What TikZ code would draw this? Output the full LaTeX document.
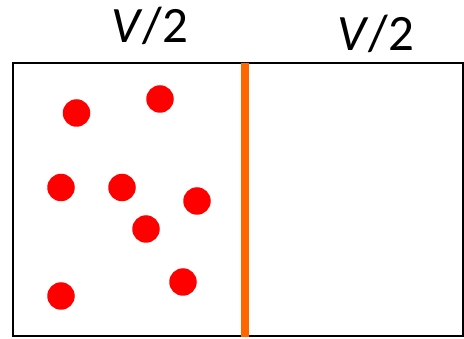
\documentclass[tikz,border=0pt]{standalone}
\usepackage{fontspec}
\setmainfont{Carlito}
\usepackage{tikz}
\definecolor{wallOrange}{HTML}{FF6600}
\newcommand{\halfVol}[0]{\textit{V}/2}
\newcommand{\dotSize}[0]{27.5pt}

\begin{document}
\begin{tikzpicture}[x=1pt, y=-1pt]
  \tikzset{particle/.style={circle, fill=red, inner sep=0pt, minimum size=\dotSize},
           label text/.style={font=\fontsize{51}{51}\selectfont, inner sep=0pt}}
  \useasboundingbox (0,0) rectangle (464,339);
  \draw[line width=2pt] (13,63) rectangle (463,336);
  \draw[wallOrange, line width=7.5pt] (245,63) -- (245,337);
  \node[label text] (left-label) at (150,26) {\halfVol};
  \node[label text] (right-label) at (376,34) {\halfVol};
  \node[particle] (p-1) at (76.5,113) {};
  \node[particle] (p-2) at (160,99) {};
  \node[particle] (p-3) at (61,187.5) {};
  \node[particle] (p-4) at (122,187.5) {};
  \node[particle] (p-5) at (197,201) {};
  \node[particle] (p-6) at (146,229) {};
  \node[particle] (p-7) at (183,282) {};
  \node[particle] (p-8) at (61,296) {};
\end{tikzpicture}
\end{document}
